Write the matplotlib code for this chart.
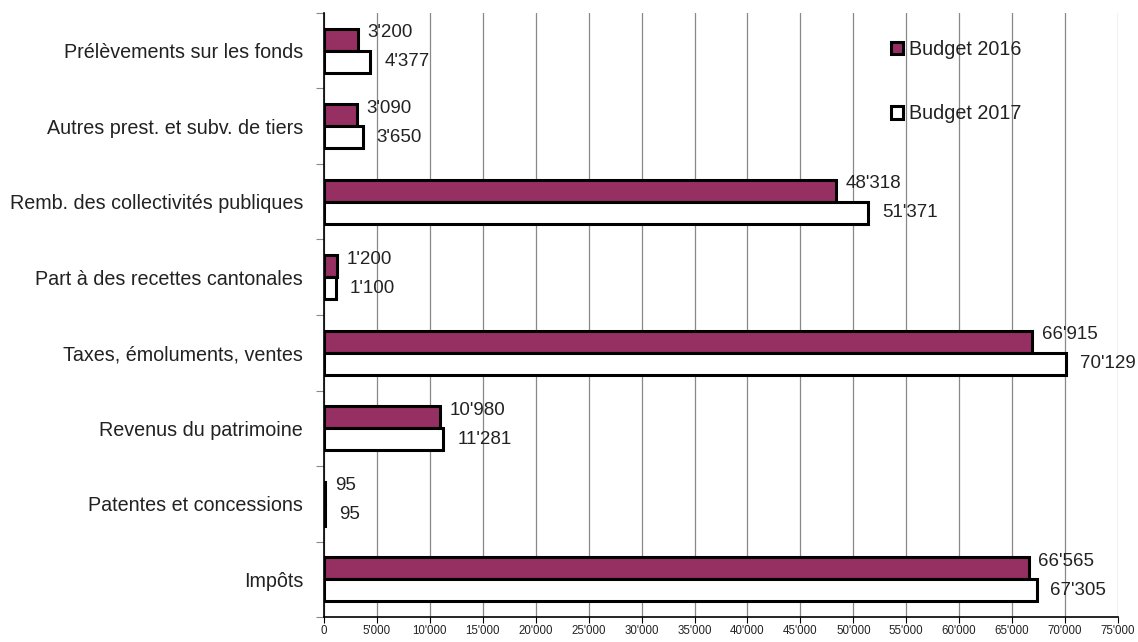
import matplotlib
matplotlib.use('Agg')
import matplotlib.pyplot as plt
import numpy as np

plt.rcParams['font.family'] = ['Liberation Sans', 'DejaVu Sans']

# catégories (de bas en haut)
categories = ['Impôts', 'Patentes et concessions', 'Revenus du patrimoine',
              'Taxes, émoluments, ventes', 'Part à des recettes cantonales',
              'Remb. des collectivités publiques', 'Autres prest. et subv. de tiers',
              'Prélèvements sur les fonds']
budget_2016 = [66565, 95, 10980, 66915, 1200, 48318, 3090, 3200]
budget_2017 = [67305, 95, 11281, 70129, 1100, 51371, 3650, 4377]
x_ticks = list(range(0, 75001, 5000))


def fmt(v):
    # séparateur de milliers avec apostrophe
    return f'{v:,}'.replace(',', "'")


fig = plt.figure(figsize=(11.38, 6.42), dpi=100)
ax = fig.add_axes([0.2847, 0.0389, 0.6977, 0.9409])

y = np.arange(len(categories))
h = 0.29
color1 = '#963062'
bars1 = ax.barh(y + h / 2, budget_2016, height=h, color=color1,
                edgecolor='black', linewidth=2.2, label='Budget 2016', zorder=3)
bars2 = ax.barh(y - h / 2, budget_2017, height=h, color='white',
                edgecolor='black', linewidth=2.2, label='Budget 2017', zorder=3)

for b, v in zip(bars1, budget_2016):
    ax.annotate(fmt(v), (b.get_width(), b.get_y() + b.get_height() * 0.82),
                xytext=(7, 0), textcoords='offset points', va='center',
                ha='left', fontsize=13.5, color='#222222')
for b, v in zip(bars2, budget_2017):
    ax.annotate(fmt(v), (b.get_width(), b.get_y() + b.get_height() / 2),
                xytext=(10, 0), textcoords='offset points', va='center',
                ha='left', fontsize=13.5, color='#222222')

ax.set_xlim(0, 75000)
ax.set_ylim(-0.5, len(categories) - 0.5)
ax.set_xticks(x_ticks)
ax.set_xticklabels([fmt(t) for t in x_ticks], fontsize=8.3, color='#222222')
ax.tick_params(axis='x', length=4, color='black', pad=2)

# ticks des catégories aux limites, libellés au centre
ax.set_yticks(np.arange(len(categories) + 1) - 0.5)
ax.set_yticklabels([])
ax.set_yticks(y, minor=True)
ax.set_yticklabels(categories, minor=True, fontsize=14.2, color='#222222')
ax.tick_params(axis='y', which='major', length=6, color='#888888')
ax.tick_params(axis='y', which='minor', length=0, pad=15)

ax.grid(True, axis='x', color='#888888', linewidth=0.9, zorder=0)
ax.set_axisbelow(True)
for s in ['top', 'right']:
    ax.spines[s].set_visible(False)
ax.spines['left'].set_linewidth(1.2)
ax.spines['bottom'].set_linewidth(1.2)

leg = ax.legend(loc='upper right', bbox_to_anchor=(0.896, 0.978), frameon=False,
                fontsize=14.2, labelspacing=2.3, handlelength=0.6,
                handleheight=0.6, handletextpad=0.3, borderpad=0.2)
for t in leg.get_texts():
    t.set_color('#222222')

fig.savefig('out.png', dpi=100)
